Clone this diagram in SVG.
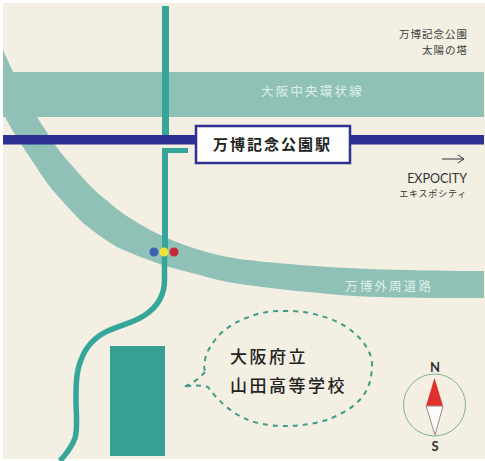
<svg xmlns="http://www.w3.org/2000/svg" width="485" height="461" viewBox="0 0 485 461">
<style>
.jp{font-family:"Noto Sans CJK JP","Noto Sans",sans-serif}
.sm{font-size:10.500px;fill:#3a3a3a;text-anchor:end;letter-spacing:1px}
.road{fill:#dff0ea;font-size:12.500px;letter-spacing:2.200px}
.sch{font-size:17px;fill:#222;letter-spacing:2.500px;font-weight:500}
.band{fill:#8fc1b7}
.rail{fill:none;stroke:#36a69b;stroke-width:6}
.lat{font-family:Lato,"Open Sans",sans-serif;fill:#333}
</style>
<rect width="485" height="461" fill="#fff"/>
<rect x="3" y="3" width="482" height="456" fill="#f4efe3"/>
<g id="roads">
<path class="band" d="M3 72H484V117H3Z"/>
<path class="band" d="M3 50L13 72L37 117C50 137 58 150 67 160C78 172 88 185 100 195C111 204 120 212 133 220C144 227 155 233 167 238C178 243 189 247 200 250C225 258 250 261 290 264C340 269 420 271 484 271V298C420 298 380 298 340 295C310 292 280 290 240 284C225 282 213 279 200 275C185 271 171 268 157 263C143 258 130 253 117 247C105 240 94 232 83 223C72 212 61 200 50 187C42 176 35 165 27 153C19 141 11 129 3 113Z"/>
</g>
<g id="connectors">
<path class="rail" d="M165.500 6V135" style="stroke-width:7"/>
<path class="rail" d="M162 150.500H188" style="stroke-width:5"/>
<path class="rail" d="M165 148V250" />
<path class="rail" d="M164.500 250V280C164.500 295 157 307 145 315C135 322 122 325 110 330C95 336 85 348 81 360C76 372 76 385 76 400C76 415 78 428 75 438C72 447 67 453 60 461" style="stroke-width:5.500"/>
<rect x="3" y="135" width="195" height="9.500" fill="#2e3192"/>
<rect x="348" y="135" width="136" height="9.500" fill="#2e3192"/>
<path d="M442 159H463M458 155L464 159L458 163" fill="none" stroke="#333" stroke-width="1"/>
</g>
<g id="transfer-dots">
<circle cx="154" cy="252" r="4.500" fill="#3a62b0"/>
<circle cx="164" cy="252" r="4.500" fill="#f2e33a"/>
<circle cx="174" cy="252" r="4.500" fill="#c22a3a"/>
</g>
<g id="school-block"><rect x="110" y="346" width="55" height="110" fill="#36a095"/></g>
<g id="station">
<rect x="196" y="126" width="154" height="37" fill="#fdfdfb" stroke="#2e3192" stroke-width="2.500"/>
<text class="jp" x="213" y="150" font-size="15" font-weight="700" letter-spacing="2" fill="#222">万博記念公園駅</text>
</g>
<g id="labels">
<text class="jp sm" x="468" y="38">万博記念公園</text>
<text class="jp sm" x="468" y="54">太陽の塔</text>
<text class="jp road" x="261" y="96">大阪中央環状線</text>
<text class="jp road" x="345" y="291">万博外周道路</text>
<text class="lat" x="467" y="183" font-size="12.500" text-anchor="end">EXPOCITY</text>
<text class="jp" x="467" y="197" font-size="9" fill="#333" text-anchor="end" letter-spacing="0.800">エキスポシティ</text>
</g>
<g id="school">
<path d="M205 372C200 378 192 384 183 387C192 385 200 385 208 387C216 398 226 408 238 415C245 419 250 421 258 423C267 425 276 426 285 426C295 426 305 425 315 423C325 421 333 418 342 413C352 408 360 401 365 393C370 385 372 375 372 363C372 358 370 354 368 350C363 340 356 334 348 328C338 321 328 318 318 315C308 312 298 311 288 311C278 311 270 311 262 313C252 315 243 319 235 323C227 328 220 333 215 340C210 347 206 353 205 360C204 365 204 368 205 372Z" fill="none" stroke="#3d9d86" stroke-width="2" stroke-dasharray="5 5"/>
<text class="jp sch" x="230" y="363">大阪府立</text>
<text class="jp sch" x="230" y="391.500">山田高等学校</text>
</g>
<g id="compass">
<circle cx="434.500" cy="405" r="31" fill="none" stroke="#7fb09a" stroke-width="1"/>
<path d="M434.500 378L426 406H443Z" fill="#e1302b"/>
<path d="M426 406H443L435 435Z" fill="#fbfbfb" stroke="#a08a85" stroke-width="1"/>
<text class="lat" x="435" y="372" font-size="13" font-weight="700" text-anchor="middle">N</text>
<text class="lat" x="435" y="451" font-size="13" font-weight="700" text-anchor="middle">S</text>
</g>
</svg>
